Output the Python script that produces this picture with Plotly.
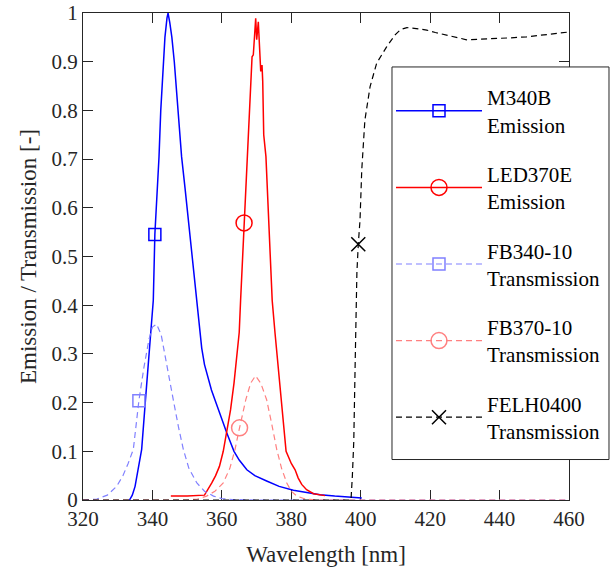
import numpy as np
import plotly.graph_objects as go

# ---- spectra (wavelength in nm, normalised intensity / transmission) ----
m340_wl = [333.4, 334.2, 335.0, 335.8, 336.9, 338.0, 339.0, 339.6, 340.25, 340.7, 341.3, 341.9,
           342.4, 343.1, 343.6, 344.2, 344.5, 345.0, 345.6, 346.3, 347.3, 348.4, 349.4, 350.4,
           351.5, 352.8, 354.2, 355.0, 356.0, 357.0, 358.0, 359.8, 361.4, 363.5, 365.0, 367.2,
           369.5, 372.9, 376.5, 380.6, 384.5, 388.3, 392.5, 396.9, 400.3]
m340_val = [0.000, 0.010, 0.028, 0.060, 0.104, 0.206, 0.300, 0.344, 0.410, 0.545, 0.620, 0.705,
            0.800, 0.900, 0.950, 0.990, 1.000, 0.980, 0.950, 0.900, 0.800, 0.705, 0.640, 0.570,
            0.490, 0.410, 0.312, 0.278, 0.250, 0.226, 0.206, 0.168, 0.138, 0.100, 0.082, 0.062,
            0.050, 0.039, 0.028, 0.020, 0.015, 0.011, 0.008, 0.006, 0.004]

led370_wl = [345.3, 350.0, 355.0, 355.7, 357.1, 358.2, 359.3, 360.4, 361.4, 362.5, 363.5, 365.0,
             365.4, 366.4, 367.4, 368.0, 368.7, 369.06, 369.75, 370.04, 370.5, 371.2, 371.57,
             371.77, 372.06, 372.7, 373.6, 374.5, 375.3, 376.6, 377.9, 378.5, 380.0, 381.1,
             382.0, 383.0, 384.4, 386.4, 389.7]
led370_val = [0.008, 0.008, 0.010, 0.018, 0.035, 0.050, 0.069, 0.100, 0.138, 0.185, 0.240, 0.344,
              0.410, 0.569, 0.705, 0.800, 0.910, 0.914, 0.989, 0.945, 0.982, 0.880, 0.893,
              0.860, 0.750, 0.705, 0.560, 0.410, 0.344, 0.240, 0.138, 0.100, 0.075, 0.062,
              0.045, 0.032, 0.021, 0.013, 0.009]

fb340_wl = [320.0, 324.0, 327.0, 329.7, 331.5, 333.0, 334.5, 336.1, 337.5, 339.0, 340.0, 341.2,
            342.5, 344.3, 346.0, 347.5, 348.9, 350.5, 352.8, 355.0, 357.6, 360.0, 363.0, 370.0,
            460.0]
fb340_val = [0.000, 0.002, 0.010, 0.028, 0.050, 0.075, 0.104, 0.204, 0.270, 0.330, 0.355, 0.361,
             0.340, 0.275, 0.206, 0.150, 0.104, 0.065, 0.035, 0.018, 0.008, 0.003, 0.001, 0.000,
             0.000]

fb370_wl = [320.0, 350.0, 353.0, 355.6, 358.0, 360.4, 362.3, 363.8, 365.0, 366.9, 368.3, 369.7,
            371.2, 372.9, 374.4, 375.8, 377.2, 378.7, 380.0, 381.6, 384.0, 387.0, 460.0]
fb370_val = [0.000, 0.000, 0.002, 0.008, 0.018, 0.035, 0.065, 0.104, 0.145, 0.206, 0.240, 0.255,
             0.240, 0.206, 0.155, 0.104, 0.065, 0.035, 0.018, 0.008, 0.002, 0.000, 0.000]

felh_wl = [320.0, 397.2, 397.6, 398.0, 398.4, 398.9, 399.3, 399.8, 400.3, 401.2, 402.7, 404.6,
           407.5, 409.9, 411.5, 413.3, 416.0, 419.0, 421.5, 423.8, 427.0, 430.5, 434.0, 438.2,
           443.0, 447.8, 452.0, 456.0, 460.0]
felh_val = [0.000, 0.000, 0.050, 0.120, 0.280, 0.467, 0.525, 0.575, 0.678, 0.780, 0.849, 0.897,
            0.931, 0.955, 0.966, 0.970, 0.968, 0.965, 0.960, 0.956, 0.950, 0.945, 0.946, 0.948,
            0.949, 0.951, 0.954, 0.957, 0.961]

# wavelength at which each series carries its single marker
marker_wl = [340.7, 366.4, 336.1, 365.1, 399.3]

names = ["M340B<br>Emission", "LED370E<br>Emission", "FB340-10<br>Transmission",
         "FB370-10<br>Transmission", "FELH0400<br>Transmission"]

series = [
    (m340_wl, m340_val, "#0000FF", "solid", "square-open", 12),
    (led370_wl, led370_val, "#FF0000", "solid", "circle-open", 16),
    (fb340_wl, fb340_val, "#8080FF", "6px,4px", "square-open", 12),
    (fb370_wl, fb370_val, "#FF8080", "6px,4px", "circle-open", 16),
    (felh_wl, felh_val, "#000000", "6px,4px", "x-thin-open", 14),
]

fig = go.Figure()
for i, (wl, val, color, dash, symbol, msize) in enumerate(series):
    group = f"g{i}"
    lw = 1.5 if dash == "solid" else 1.2
    fig.add_trace(go.Scatter(
        x=wl, y=val, mode="lines", legendgroup=group, showlegend=False,
        line=dict(color=color, width=lw, dash=dash), hoverinfo="skip"))
    mx = marker_wl[i]
    my = float(np.interp(mx, wl, val))
    fig.add_trace(go.Scatter(
        x=[mx], y=[my], mode="lines+markers", legendgroup=group, name=names[i],
        line=dict(color=color, width=lw, dash=dash),
        marker=dict(symbol=symbol, size=msize, color=color,
                    line=dict(color=color, width=1.5)),
        cliponaxis=False))

axis_color = "#262626"
font_family = "Liberation Serif"
tick_size = 21
title_size = 23

# white framed box behind the legend (it hides the right axis where they overlap)
fig.add_shape(type="rect", xref="paper", yref="paper",
              x0=0.6358, x1=1.0823, y0=0.0831, y1=0.8892,
              fillcolor="white", line=dict(color=axis_color, width=1), layer="above")

fig.update_layout(
    width=614, height=572,
    margin=dict(l=83, r=45, t=13, b=72, autoexpand=False),
    paper_bgcolor="white", plot_bgcolor="white",
    font=dict(family=font_family, size=tick_size, color=axis_color),
    xaxis=dict(
        range=[320, 460], dtick=20, tick0=320, automargin=False,
        showline=True, linecolor=axis_color, linewidth=1, mirror="ticks",
        ticks="inside", ticklen=10, tickcolor=axis_color, tickwidth=1,
        showgrid=False, zeroline=False, layer="below traces",
        tickfont=dict(family=font_family, size=tick_size, color=axis_color),
        title=dict(text="Wavelength [nm]",
                   font=dict(family=font_family, size=title_size, color=axis_color), standoff=15),
    ),
    yaxis=dict(
        range=[0, 1], dtick=0.1, tick0=0, automargin=False,
        showline=True, linecolor=axis_color, linewidth=1, mirror="ticks",
        ticks="inside", ticklen=10, tickcolor=axis_color, tickwidth=1,
        showgrid=False, zeroline=False, layer="below traces",
        tickfont=dict(family=font_family, size=tick_size, color=axis_color),
        title=dict(text="Emission / Transmission [-]",
                   font=dict(family=font_family, size=title_size, color=axis_color), standoff=8),
    ),
    legend=dict(
        xref="container", yref="container",
        x=0.6368, y=0.8654, xanchor="left", yanchor="top",
        bgcolor="rgba(0,0,0,0)", borderwidth=0, maxheight=520,
        font=dict(family=font_family, size=tick_size, color="#000000"),
        itemwidth=86, tracegroupgap=19, valign="middle",
    ),
)

fig.write_html("out.html")
